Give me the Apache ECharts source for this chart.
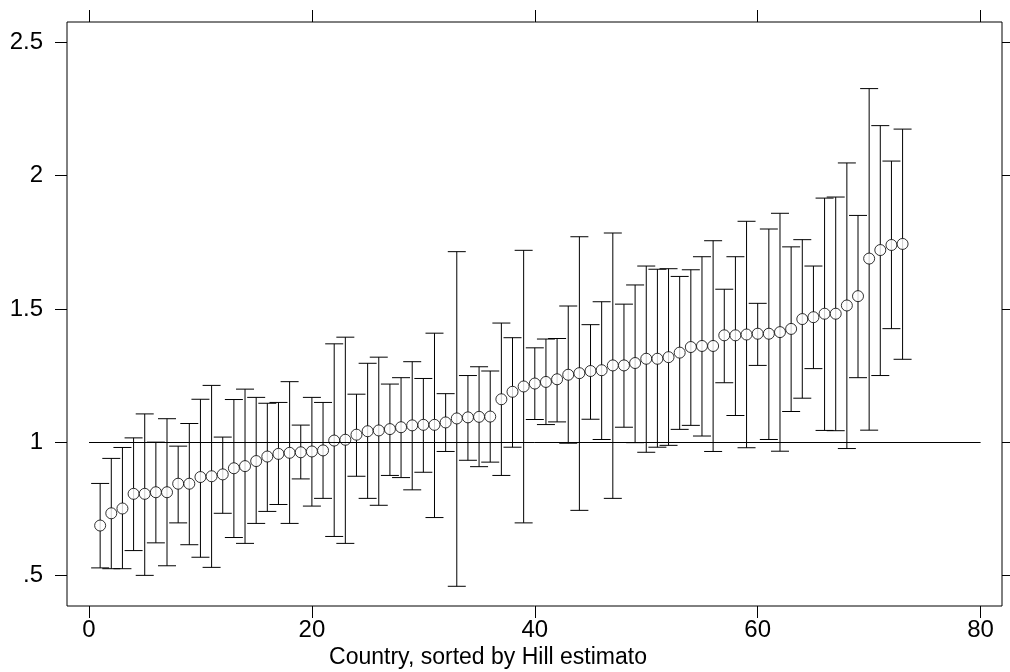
<!DOCTYPE html>
<html>
<head>
<meta charset="utf-8">
<script src="https://cdn.jsdelivr.net/npm/echarts@6/dist/echarts.min.js"></script>
<style>
html,body{margin:0;padding:0;background:#fff;}
#chart{width:1010px;height:672px;}
</style>
</head>
<body>
<div id="chart"></div>
<script>
// Hill estimates by country (sorted), with lower/upper confidence bounds
const countryIndex = Array.from({length: 73}, (_, i) => i + 1);
const hillEstimate = [0.687,0.733,0.751,0.806,0.806,0.812,0.812,0.844,0.844,0.869,
  0.872,0.879,0.902,0.910,0.929,0.946,0.956,0.960,0.962,0.965,
  0.969,1.006,1.009,1.028,1.041,1.044,1.049,1.056,1.063,1.065,
  1.065,1.074,1.089,1.093,1.095,1.096,1.161,1.189,1.209,1.220,
  1.226,1.236,1.253,1.259,1.267,1.270,1.288,1.288,1.297,1.313,
  1.313,1.319,1.336,1.357,1.361,1.361,1.401,1.401,1.404,1.407,
  1.407,1.413,1.425,1.462,1.469,1.482,1.482,1.513,1.548,1.689,
  1.721,1.740,1.744];
const upperBound = [0.845,0.939,0.980,1.016,1.106,1.000,1.088,0.985,1.070,1.161,
  1.213,1.019,1.160,1.199,1.168,1.146,1.149,1.227,1.064,1.168,
  1.149,1.369,1.394,1.180,1.296,1.319,1.218,1.242,1.302,1.239,
  1.409,1.182,1.715,1.250,1.283,1.267,1.447,1.392,1.720,1.354,
  1.387,1.389,1.511,1.771,1.441,1.527,1.785,1.518,1.590,1.661,
  1.649,1.651,1.622,1.647,1.696,1.756,1.574,1.696,1.829,1.521,
  1.800,1.859,1.733,1.760,1.661,1.916,1.920,2.048,1.851,2.327,
  2.188,2.055,2.175];
const lowerBound = [0.528,0.525,0.525,0.593,0.500,0.622,0.536,0.697,0.615,0.568,
  0.530,0.733,0.642,0.620,0.695,0.740,0.766,0.695,0.862,0.760,
  0.789,0.646,0.620,0.872,0.789,0.763,0.875,0.867,0.821,0.887,
  0.717,0.965,0.459,0.932,0.908,0.925,0.875,0.981,0.697,1.085,
  1.066,1.076,0.996,0.744,1.086,1.010,0.789,1.056,0.998,0.962,
  0.981,0.988,1.048,1.063,1.023,0.965,1.223,1.100,0.979,1.288,
  1.010,0.966,1.115,1.165,1.276,1.044,1.043,0.976,1.242,1.045,
  1.250,1.426,1.311];
const xTicks = [0, 20, 40, 60, 80];
const yTicks = [0.5, 1, 1.5, 2, 2.5];
const yTickLabels = ['.5', '1', '1.5', '2', '2.5'];
const referenceLevel = 1;
const referenceRange = [0, 80];
const xAxisTitle = 'Country, sorted by Hill estimato';

const FONT = '"Liberation Sans", Arial, Helvetica, sans-serif';
const chart = echarts.init(document.getElementById('chart'), null, {renderer: 'canvas'});

const barData = countryIndex.map((x, i) => [x, lowerBound[i], upperBound[i]]);
const pointData = countryIndex.map((x, i) => [x, hillEstimate[i]]);

function xAxisDef(pos, withLabels) {
  return {
    type: 'value', min: -1.974, max: 81.92, position: pos,
    axisLine: {show: false, onZero: false},
    splitLine: {show: false},
    axisTick: {show: true, inside: false, length: 12, customValues: xTicks, lineStyle: {color: '#000', width: 1}},
    axisLabel: withLabels
      ? {show: true, customValues: xTicks, margin: 12, fontSize: 24, color: '#000', fontFamily: FONT}
      : {show: false}
  };
}
function yAxisDef(pos, withLabels) {
  return {
    type: 'value', min: 0.385, max: 2.577, position: pos,
    axisLine: {show: false, onZero: false},
    splitLine: {show: false},
    axisTick: {show: true, inside: false, length: 12, customValues: yTicks, lineStyle: {color: '#000', width: 1}},
    axisLabel: withLabels
      ? {show: true, customValues: yTicks, margin: 24, fontSize: 24, color: '#000', fontFamily: FONT,
         formatter: v => { const k = yTicks.indexOf(v); return k >= 0 ? yTickLabels[k] : ''; }}
      : {show: false}
  };
}

chart.setOption({
  animation: false,
  backgroundColor: '#fff',
  grid: {left: 67, right: 8, top: 22, bottom: 66, show: true, borderColor: '#000', borderWidth: 1, backgroundColor: 'transparent'},
  xAxis: [xAxisDef('bottom', true), xAxisDef('top', false)],
  yAxis: [yAxisDef('left', true), yAxisDef('right', false)],
  graphic: [{
    type: 'text', x: 488, y: 658,
    style: {text: xAxisTitle, fill: '#000', font: '23px ' + FONT, textAlign: 'center', textVerticalAlign: 'middle'}
  }],
  series: [
    {
      type: 'custom',
      xAxisIndex: 0, yAxisIndex: 0,
      data: barData,
      encode: {x: 0, y: [1, 2]},
      silent: true,
      z: 2,
      renderItem: function (params, api) {
        const x = api.value(0);
        const lo = api.coord([x, api.value(1)]);
        const hi = api.coord([x, api.value(2)]);
        const half = 9;
        const style = {stroke: '#000', lineWidth: 1, fill: null};
        return {
          type: 'group',
          children: [
            {type: 'line', shape: {x1: lo[0], y1: lo[1], x2: hi[0], y2: hi[1]}, style: style},
            {type: 'line', shape: {x1: lo[0] - half, y1: lo[1], x2: lo[0] + half, y2: lo[1]}, style: style},
            {type: 'line', shape: {x1: hi[0] - half, y1: hi[1], x2: hi[0] + half, y2: hi[1]}, style: style}
          ]
        };
      }
    },
    {
      type: 'scatter',
      xAxisIndex: 0, yAxisIndex: 0,
      data: pointData,
      symbol: 'circle',
      symbolSize: 11,
      z: 3,
      silent: true,
      itemStyle: {color: '#fff', borderColor: '#000', borderWidth: 1},
      markLine: {
        silent: true,
        symbol: ['none', 'none'],
        label: {show: false},
        lineStyle: {color: '#000', width: 1, type: 'solid'},
        data: [[{coord: [referenceRange[0], referenceLevel]}, {coord: [referenceRange[1], referenceLevel]}]]
      }
    }
  ]
});
</script>
</body>
</html>
